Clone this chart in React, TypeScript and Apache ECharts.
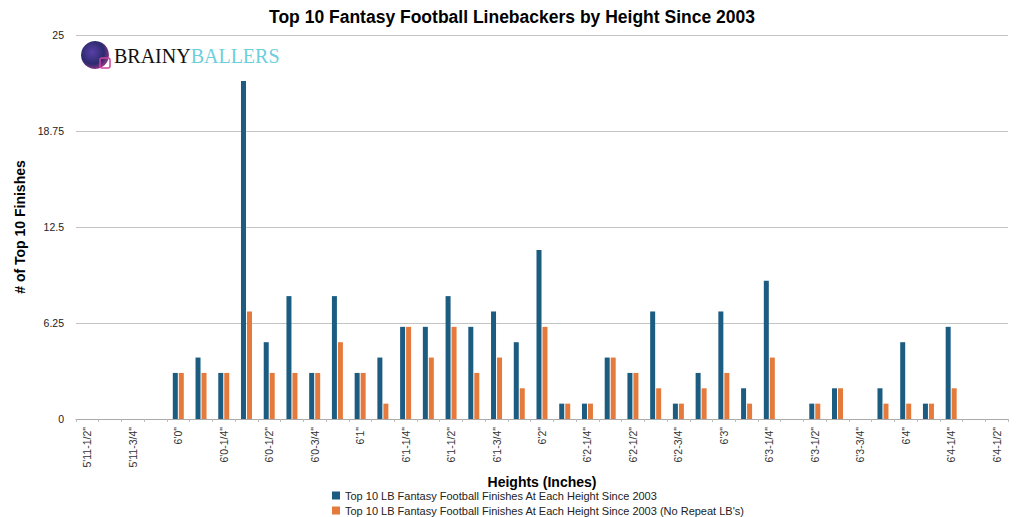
import React, { useEffect, useRef } from "react";
import * as echarts from "echarts";

const categories = [
  "5'11-1/2\"", "5'11-5/8\"", "5'11-3/4\"", "5'11-7/8\"",
  "6'0\"", "6'0-1/8\"", "6'0-1/4\"", "6'0-3/8\"", "6'0-1/2\"", "6'0-5/8\"", "6'0-3/4\"", "6'0-7/8\"",
  "6'1\"", "6'1-1/8\"", "6'1-1/4\"", "6'1-3/8\"", "6'1-1/2\"", "6'1-5/8\"", "6'1-3/4\"", "6'1-7/8\"",
  "6'2\"", "6'2-1/8\"", "6'2-1/4\"", "6'2-3/8\"", "6'2-1/2\"", "6'2-5/8\"", "6'2-3/4\"", "6'2-7/8\"",
  "6'3\"", "6'3-1/8\"", "6'3-1/4\"", "6'3-3/8\"", "6'3-1/2\"", "6'3-5/8\"", "6'3-3/4\"", "6'3-7/8\"",
  "6'4\"", "6'4-1/8\"", "6'4-1/4\"", "6'4-3/8\"", "6'4-1/2\"",
];

const allFinishes = [
  0, 0, 0, 0,
  3, 4, 3, 22, 5, 8, 3, 8,
  3, 4, 6, 6, 8, 6, 7, 5,
  11, 1, 1, 4, 3, 7, 1, 3,
  7, 2, 9, 0, 1, 2, 0, 2,
  5, 1, 6, 0, 0,
];

const noRepeatFinishes = [
  0, 0, 0, 0,
  3, 3, 3, 7, 3, 3, 3, 5,
  3, 1, 6, 4, 6, 3, 4, 2,
  6, 1, 1, 4, 3, 2, 1, 2,
  3, 1, 4, 0, 1, 2, 0, 1,
  1, 1, 2, 0, 0,
];

const yTicks = [0, 6.25, 12.5, 18.75, 25];

const seriesNames = [
  "Top 10 LB Fantasy Football Finishes At Each Height Since 2003",
  "Top 10 LB Fantasy Football Finishes At Each Height Since 2003 (No Repeat LB's)",
];

export default function App() {
  const ref = useRef<HTMLDivElement>(null);
  useEffect(() => {
    if (!ref.current) return;
    const chart = echarts.init(ref.current, undefined, { renderer: "svg" });
    const font = "'Liberation Sans', Arial, Helvetica, sans-serif";
    const legendBase = {
      orient: "vertical",
      left: 332,
      padding: 0,
      itemWidth: 8,
      itemHeight: 8,
      icon: "rect",
      textStyle: { fontSize: 11, color: "#222", fontFamily: font },
    };
    chart.setOption({
      animation: false,
      backgroundColor: "#ffffff",
      textStyle: { fontFamily: font },
      title: {
        text: "Top 10 Fantasy Football Linebackers by Height Since 2003",
        left: "center",
        top: 3,
        textStyle: { fontSize: 17.5, fontWeight: "bold", color: "#000", fontFamily: font },
      },
      grid: { left: 76, right: 16, top: 35, bottom: 98, containLabel: false },
      legend: [
        { ...legendBase, top: 490, data: [seriesNames[0]] },
        { ...legendBase, top: 505, data: [seriesNames[1]] },
      ],
      xAxis: {
        type: "category",
        data: categories,
        name: "Heights (Inches)",
        nameLocation: "middle",
        nameGap: 53,
        nameTextStyle: { fontSize: 14, fontWeight: "bold", color: "#000", fontFamily: font },
        axisLine: { show: true, lineStyle: { color: "#aaa" } },
        axisTick: { show: true, interval: 0, length: 3, lineStyle: { color: "#bbb" } },
        axisLabel: { interval: 1, rotate: 90, fontSize: 10.5, color: "#333", margin: 8 },
      },
      yAxis: {
        type: "value",
        min: 0,
        max: 25,
        interval: 6.25,
        name: "# of Top 10 Finishes",
        nameLocation: "middle",
        nameGap: 42,
        nameRotate: 90,
        nameTextStyle: { fontSize: 14, fontWeight: "bold", color: "#000", fontFamily: font },
        axisLine: { show: false },
        axisTick: { show: false },
        axisLabel: {
          fontSize: 10.5,
          color: "#222",
          margin: 12,
          formatter: (v: number) => (yTicks.includes(v) ? String(v) : ""),
        },
        splitLine: { show: true, lineStyle: { color: "#c4c4c4", width: 1 } },
      },
      series: [
        {
          name: seriesNames[0],
          type: "bar",
          data: allFinishes,
          barWidth: 5,
          barGap: "20%",
          itemStyle: { color: "#1b5c80" },
        },
        {
          name: seriesNames[1],
          type: "bar",
          data: noRepeatFinishes,
          barWidth: 5,
          barGap: "20%",
          itemStyle: { color: "#e57a3d" },
        },
      ],
      graphic: [
        {
          type: "group",
          left: 81,
          top: 41,
          children: [
            {
              type: "circle",
              shape: { cx: 15, cy: 14, r: 14 },
              style: {
                fill: new echarts.graphic.RadialGradient(0.4, 0.4, 0.7, [
                  { offset: 0, color: "#5a3fa8" },
                  { offset: 0.6, color: "#2c2a6e" },
                  { offset: 1, color: "#b0388f" },
                ]),
              },
            },
            {
              type: "rect",
              shape: { x: 20, y: 17, width: 10, height: 10, r: 2 },
              style: { fill: "none", stroke: "#d0469a", lineWidth: 1.5 },
            },
            {
              type: "text",
              x: 34,
              y: 5,
              style: {
                text: "{a|BRAINY}{b|BALLERS}",
                rich: {
                  a: { fontFamily: "'Liberation Serif', 'DejaVu Serif', serif", fontSize: 20, fill: "#111" },
                  b: { fontFamily: "'Liberation Serif', 'DejaVu Serif', serif", fontSize: 20, fill: "#6ccfdc" },
                },
              },
            },
          ],
        },
      ],
    });
    return () => chart.dispose();
  }, []);
  return (
    <div
      ref={ref}
      style={{ position: "fixed", left: 0, top: 0, width: 1024, height: 517, background: "#fff" }}
    />
  );
}
